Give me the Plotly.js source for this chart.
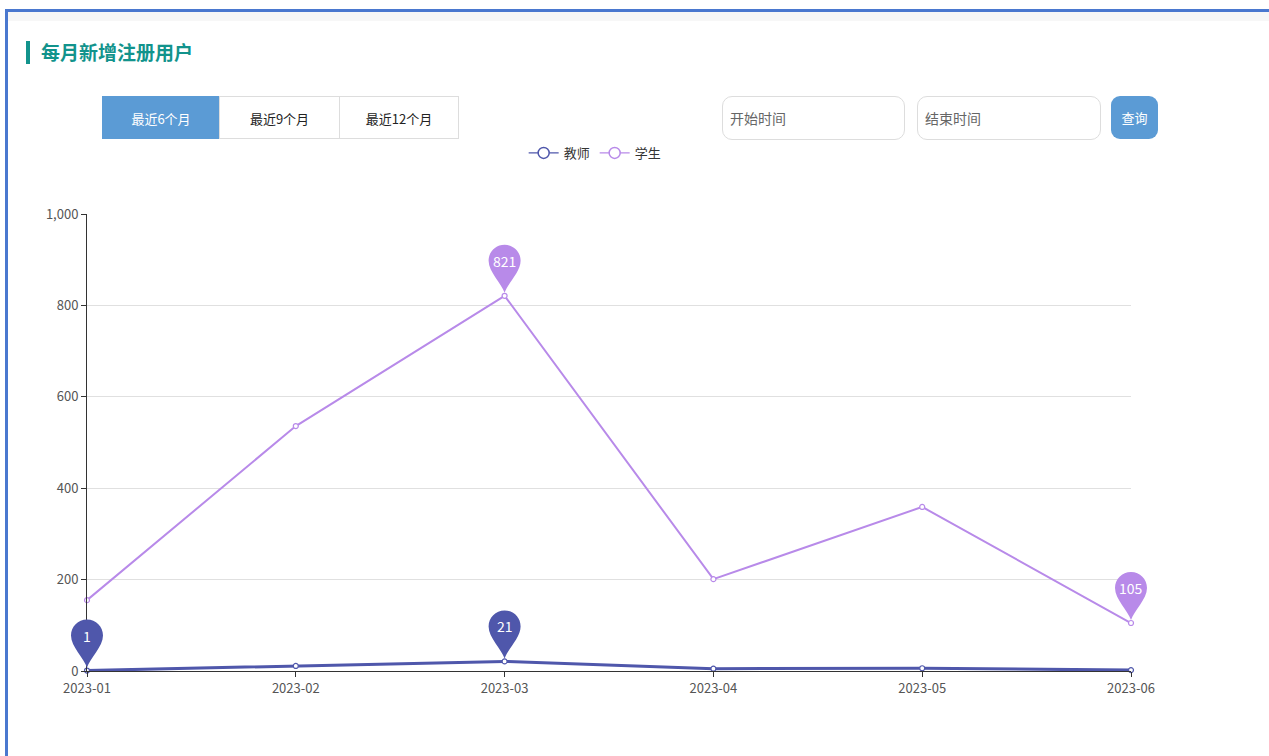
<!DOCTYPE html>
<html>
<head>
<meta charset="utf-8">
<script src="https://cdn.plot.ly/plotly-3.0.1.min.js"></script>
<style>
  html, body { margin:0; padding:0; width:1269px; height:756px; overflow:hidden; background:#fff;
    font-family:"Noto Sans CJK SC","Noto Sans",sans-serif; }
  #frameTop { position:absolute; left:5px; top:9px; width:1264px; height:3px; background:#4a78cf; }
  #frameLeft { position:absolute; left:5px; top:9px; width:3px; height:747px; background:#4a78cf; }
  #band { position:absolute; left:8px; top:12px; width:1261px; height:9px; background:#f7f7f7; }
  #titleBar { position:absolute; left:26px; top:41px; width:4px; height:23px; background:#12938c; }
  #title { position:absolute; left:41px; top:38px; font-size:19px; font-weight:bold; color:#12938c; line-height:28px; }
  .tab { position:absolute; top:96px; height:43px; line-height:43px; text-align:center; font-size:13px;
    color:#222; border:1px solid #ddd; box-sizing:border-box; background:#fff; }
  .tab.active { background:#5b9bd5; color:#fff; border-color:#5b9bd5; }
  .inp { position:absolute; top:96px; height:44px; border:1px solid #ddd; border-radius:10px; box-sizing:border-box;
    font-size:14px; color:#666; line-height:42px; padding-left:7px; background:#fff; }
  #btn { position:absolute; left:1111px; top:96px; width:47px; height:43px; border-radius:9px; background:#5b9bd5;
    color:#fff; font-size:13px; line-height:43px; text-align:center; }
  #chart { position:absolute; left:0; top:0; width:1269px; height:756px; }
</style>
</head>
<body>
<div id="frameTop"></div>
<div id="band"></div>
<div id="frameLeft"></div>
<div id="titleBar"></div>
<div id="title">每月新增注册用户</div>
<div id="chart"></div>
<div class="tab active" style="left:102px;width:118px;">最近6个月</div>
<div class="tab" style="left:219px;width:121px;">最近9个月</div>
<div class="tab" style="left:339px;width:120px;">最近12个月</div>
<div class="inp" style="left:722px;width:183px;">开始时间</div>
<div class="inp" style="left:917px;width:184px;">结束时间</div>
<div id="btn">查询</div>
<script>
// ---- data ----
const months = ["2023-01", "2023-02", "2023-03", "2023-04", "2023-05", "2023-06"];
const teacherName = "教师";
const studentName = "学生";
const teacher = [1, 11, 21, 5, 6, 2];
const student = [155, 536, 821, 201, 359, 105];
const yTicks = [0, 200, 400, 600, 800, 1000];
const yTickText = ["0", "200", "400", "600", "800", "1,000"];

const teacherColor = "#4f57ab";
const studentColor = "#b88ae9";

function maxIdx(a) { let k = 0; a.forEach((v, i) => { if (v > a[k]) k = i; }); return k; }
function minIdx(a) { let k = 0; a.forEach((v, i) => { if (v < a[k]) k = i; }); return k; }

const pinPath = "M 0 3 C -3 12, -16 24, -16 35 C -16 44, -9 51, 0 51 C 9 51, 16 44, 16 35 C 16 24, 3 12, 0 3 Z";

const shapes = [];
const annotations = [];
function addPin(series, i, color) {
  shapes.push({
    type: "path", xref: "paper", yref: "y", xsizemode: "pixel", ysizemode: "pixel",
    xanchor: i / (months.length - 1), yanchor: series[i], path: pinPath,
    fillcolor: color, line: { width: 0 }, layer: "above"
  });
  annotations.push({
    x: i, y: series[i], xref: "x", yref: "y", text: String(series[i]),
    showarrow: false, yshift: 35, font: { color: "#fff", size: 14, family: "Noto Sans CJK SC" }
  });
}
addPin(student, maxIdx(student), studentColor);
addPin(student, minIdx(student), studentColor);
addPin(teacher, maxIdx(teacher), teacherColor);
addPin(teacher, minIdx(teacher), teacherColor);

const idx = months.map((m, i) => i);

function seriesTrace(name, values, color, width) {
  return {
    x: idx, y: values, name: name, type: "scatter", mode: "lines+markers", showlegend: false,
    line: { color: color, width: width },
    marker: { symbol: "circle", size: 5, color: "#fff", line: { color: color, width: 1.2 } },
    cliponaxis: false
  };
}
function legendTrace(name, color) {
  return {
    x: [null], y: [null], name: name, type: "scatter", mode: "lines+markers", showlegend: true,
    line: { color: color, width: 1.2 },
    marker: { symbol: "circle", size: 11, color: "#fff", line: { color: color, width: 1.5 } }
  };
}

const traces = [
  seriesTrace(teacherName, teacher, teacherColor, 3),
  seriesTrace(studentName, student, studentColor, 2),
  legendTrace(teacherName, teacherColor),
  legendTrace(studentName, studentColor)
];

const layout = {
  width: 1269, height: 756,
  margin: { l: 87, r: 138, t: 214, b: 85 },
  paper_bgcolor: "rgba(0,0,0,0)", plot_bgcolor: "rgba(0,0,0,0)",
  font: { family: "Noto Sans CJK SC, Noto Sans, sans-serif", color: "#666", size: 13 },
  showlegend: true,
  legend: {
    orientation: "h", xref: "container", yref: "container", x: 0.469, y: 1 - 153 / 756,
    xanchor: "center", yanchor: "middle", itemwidth: 30,
    font: { size: 13, color: "#333" }, bgcolor: "rgba(0,0,0,0)"
  },
  xaxis: {
    type: "linear", range: [0, months.length - 1], tickvals: idx, ticktext: months,
    showgrid: false, zeroline: false, showline: true, linecolor: "#333", linewidth: 1,
    ticks: "outside", ticklen: 5, tickcolor: "#333", tickfont: { size: 13, color: "#555" }
  },
  yaxis: {
    range: [0, 1000], tickvals: yTicks, ticktext: yTickText,
    showgrid: true, gridcolor: "#e0e0e0", gridwidth: 1, zeroline: false,
    showline: true, linecolor: "#333", linewidth: 1,
    ticks: "outside", ticklen: 5, tickcolor: "#333", tickfont: { size: 13, color: "#555" }
  },
  shapes: shapes,
  annotations: annotations,
  hovermode: false
};

Plotly.newPlot("chart", traces, layout, { displayModeBar: false, staticPlot: true });
</script>
</body>
</html>
